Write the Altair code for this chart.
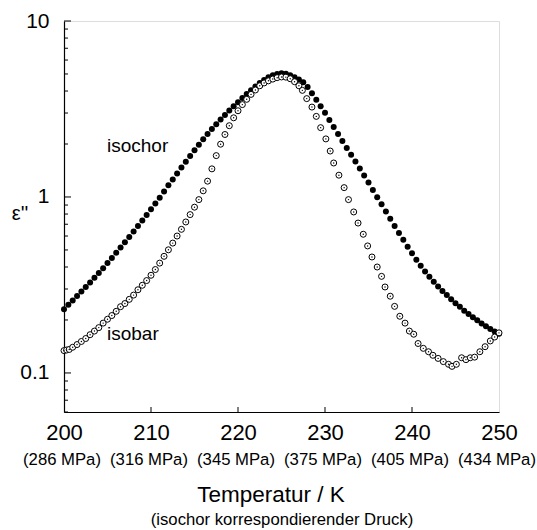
import altair as alt
import pandas as pd

# ---------------- data ----------------
T_isochor = [200.0, 200.5, 201.0, 201.5, 202.0, 202.5, 203.0, 203.5, 204.0, 204.5,
             205.0, 205.5, 206.0, 206.5, 207.0, 207.5, 208.0, 208.5, 209.0, 209.5,
             210.0, 210.5, 211.0, 211.5, 212.0, 212.5, 213.0, 213.5, 214.0, 214.5,
             215.0, 215.5, 216.0, 216.5, 217.0, 217.5, 218.0, 218.5, 219.0, 219.5,
             220.0, 220.5, 221.0, 221.5, 222.0, 222.5, 223.0, 223.5, 224.0, 224.5,
             225.0, 225.5, 226.0, 226.5, 227.0, 227.5, 228.0, 228.5, 229.0, 229.5,
             230.0, 230.5, 231.0, 231.5, 232.0, 232.5, 233.0, 233.5, 234.0, 234.5,
             235.0, 235.5, 236.0, 236.5, 237.0, 237.5, 238.0, 238.5, 239.0, 239.5,
             240.0, 240.5, 241.0, 241.5, 242.0, 242.5, 243.0, 243.5, 244.0, 244.5,
             245.0, 245.5, 246.0, 246.5, 247.0, 247.5, 248.0, 248.5, 249.0, 249.5,
             250.0]
eps_isochor = [0.230, 0.244, 0.258, 0.274, 0.290, 0.308, 0.327, 0.348, 0.370, 0.394,
               0.421, 0.450, 0.482, 0.516, 0.553, 0.593, 0.637, 0.684, 0.735, 0.791,
               0.851, 0.918, 0.991, 1.074, 1.164, 1.259, 1.358, 1.469, 1.585, 1.710,
               1.841, 1.982, 2.128, 2.280, 2.432, 2.594, 2.754, 2.924, 3.097, 3.273,
               3.451, 3.648, 3.846, 4.046, 4.246, 4.436, 4.624, 4.786, 4.920, 5.000,
               5.047, 5.012, 4.920, 4.797, 4.656, 4.487, 4.217, 3.890, 3.565, 3.281,
               3.006, 2.742, 2.500, 2.280, 2.080, 1.897, 1.738, 1.589, 1.452, 1.324,
               1.208, 1.094, 0.998, 0.908, 0.826, 0.752, 0.684, 0.625, 0.571, 0.522,
               0.479, 0.440, 0.406, 0.377, 0.352, 0.330, 0.310, 0.292, 0.277, 0.262,
               0.249, 0.238, 0.226, 0.216, 0.207, 0.199, 0.191, 0.184, 0.178, 0.172,
               0.167]

T_isobar = [200.0, 200.3, 200.6, 201.0, 201.5, 202.0, 202.5, 203.0, 203.5, 204.0,
            204.5, 205.0, 205.5, 206.0, 206.5, 207.0, 207.5, 208.0, 208.5, 209.0,
            209.5, 210.0, 210.5, 211.0, 211.5, 212.0, 212.5, 213.0, 213.5, 214.0,
            214.5, 215.0, 215.5, 216.0, 216.5, 217.0, 217.5, 218.0, 218.5, 219.0,
            219.5, 220.0, 220.5, 221.0, 221.5, 222.0, 222.5, 223.0, 223.5, 224.0,
            224.5, 225.0, 225.5, 226.0, 226.5, 227.0, 227.4, 227.9, 228.5, 229.0,
            229.5, 230.1, 230.6, 231.0, 231.6, 232.2, 232.7, 233.3, 233.8, 234.4,
            234.9, 235.4, 236.0, 236.5, 236.9, 237.5, 238.0, 238.6, 239.2, 239.7,
            240.2, 240.7, 241.3, 241.9, 242.4, 243.0, 243.6, 244.2, 244.6, 245.1,
            245.7, 246.2, 246.7, 247.2, 247.8, 248.4, 249.0, 249.5, 250.0]
eps_isobar = [0.134, 0.135, 0.136, 0.140, 0.145, 0.151, 0.157, 0.165, 0.173, 0.181,
              0.192, 0.202, 0.212, 0.224, 0.238, 0.248, 0.262, 0.277, 0.297, 0.315,
              0.335, 0.359, 0.387, 0.421, 0.460, 0.501, 0.547, 0.600, 0.655, 0.721,
              0.794, 0.875, 0.966, 1.084, 1.230, 1.445, 1.718, 1.995, 2.265, 2.541,
              2.818, 3.090, 3.350, 3.589, 3.828, 4.055, 4.285, 4.446, 4.571, 4.677,
              4.764, 4.808, 4.797, 4.699, 4.519, 4.285, 4.036, 3.622, 3.243, 2.871,
              2.477, 2.138, 1.824, 1.560, 1.330, 1.130, 0.966, 0.822, 0.711, 0.614,
              0.527, 0.456, 0.400, 0.354, 0.308, 0.273, 0.239, 0.210, 0.192, 0.173,
              0.166, 0.147, 0.138, 0.132, 0.126, 0.121, 0.116, 0.112, 0.109, 0.112,
              0.122, 0.119, 0.122, 0.123, 0.132, 0.141, 0.152, 0.160, 0.169]

x_tick_values = [200, 210, 220, 230, 240, 250]
pressure_labels = ["(286 MPa)", "(316 MPa)", "(345 MPa)", "(375 MPa)", "(405 MPa)", "(434 MPa)"]
y_tick_values = [0.1, 1, 10]
y_minor_values = [0.06, 0.07, 0.08, 0.09, 0.2, 0.3, 0.4, 0.5, 0.6, 0.7, 0.8, 0.9,
                  2, 3, 4, 5, 6, 7, 8, 9]
x_inner_ticks = [210, 220, 230, 240]

# ---------------- chart ----------------
FONT = "Liberation Sans"
W, H = 435, 391

df_ic = pd.DataFrame({"T": T_isochor, "eps": eps_isochor})
df_ib = pd.DataFrame({"T": T_isobar, "eps": eps_isobar})
df_xt = pd.DataFrame({"T": x_tick_values, "p": pressure_labels})
df_xin = pd.DataFrame({"T": x_inner_ticks})
df_ymaj = pd.DataFrame({"eps": y_tick_values})
df_ymin = pd.DataFrame({"eps": y_minor_values})

xscale = alt.Scale(domain=[200, 250], nice=False, zero=False)
yscale = alt.Scale(type="log", domain=[0.06, 10], nice=False)

X = alt.X("T:Q", scale=xscale, title=None,
          axis=alt.Axis(values=x_tick_values, ticks=False, grid=False,
                        labelFontSize=22, labelFont=FONT, labelColor="black",
                        labelPadding=10, labelFlush=False, labelOverlap=False,
                        domainColor="black", domainWidth=1.2, format="d"))
Y = alt.Y("eps:Q", scale=yscale, title=None,
          axis=alt.Axis(values=y_tick_values, ticks=False, grid=False,
                        labelFontSize=21, labelFont=FONT, labelColor="black",
                        labelPadding=15, labelFlush=False, labelOverlap=False,
                        domainColor="black", domainWidth=1.2, format="~g"))

isochor = alt.Chart(df_ic).mark_circle(size=36, color="black", opacity=1).encode(x=X, y=Y)
isobar = alt.Chart(df_ib).mark_point(shape="circle", size=36, filled=True, fill="white",
                                      stroke="black", strokeWidth=1, opacity=1).encode(x=X, y=Y)
isobar_dot = alt.Chart(df_ib).mark_circle(size=2, color="black", opacity=1).encode(x=X, y=Y)

xin = alt.Chart(df_xin).mark_rule(color="black", strokeWidth=1).encode(
    x=X, y=alt.value(H), y2=alt.value(H - 5))
ymaj = alt.Chart(df_ymaj).mark_rule(color="black", strokeWidth=1).encode(
    y=Y, x=alt.value(0), x2=alt.value(7))
ymin = alt.Chart(df_ymin).mark_rule(color="black", strokeWidth=1).encode(
    y=Y, x=alt.value(0), x2=alt.value(4))

plabels = alt.Chart(df_xt).mark_text(fontSize=16.7, font=FONT, color="black",
                                      align="center", baseline="middle", dx=-2).encode(
    x=X, y=alt.value(439), text="p:N")

def label(txt, x, y, size, align="center"):
    return alt.Chart(pd.DataFrame({"t": [txt]})).mark_text(
        fontSize=size, font=FONT, color="black", align=align, baseline="middle").encode(
        x=alt.value(x), y=alt.value(y), text="t:N")

t_isochor = label("isochor", 43, 125, 19, "left")
t_isobar = label("isobar", 43, 313, 19, "left")
t_eps = label("ε''", -44, 193, 20)
t_title = label("Temperatur / K", 207, 474, 22.5)
t_sub = label("(isochor korrespondierender Druck)", 218, 499, 16.7)

chart = alt.layer(
    ymin, ymaj, xin, isochor, isobar, isobar_dot, plabels,
    t_isochor, t_isobar, t_eps, t_title, t_sub
).properties(
    width=W, height=H,
    padding={"left": 64, "top": 21, "right": 38, "bottom": 118},
    autosize=alt.AutoSizeParams(type="none"),
).configure_view(stroke="#444", strokeWidth=1).configure(background="white", font=FONT)

chart.save("out.html", embed_options={"renderer": "svg", "actions": False})
